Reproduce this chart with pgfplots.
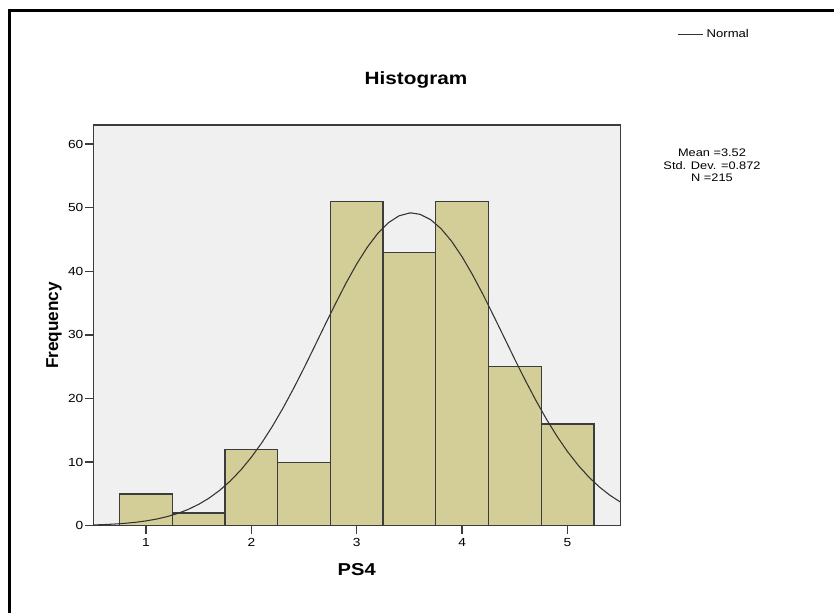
\documentclass[border=0pt]{standalone}
\usepackage{pgfplots}
\pgfplotsset{compat=1.18}
\usepackage{fontspec}
\setmainfont{Liberation Sans}

\definecolor{barfill}{RGB}{211,206,151}
\definecolor{plotbg}{RGB}{240,240,240}
\definecolor{edge}{RGB}{60,60,60}

\begin{document}
\begin{tikzpicture}
% page = 834 x 613 px, 1px = 0.75pt, origin at top left
\useasboundingbox (0pt,0pt) rectangle (625.5pt,-459.75pt);
\draw[black, line width=2.2pt] (7.1pt,-470pt) -- (7.1pt,-7.9pt) -- (640pt,-7.9pt);

\node[anchor=base, font=\bfseries\fontsize{13.3}{15}\selectfont, xscale=1.17]
  at (312pt,-63.75pt) {Histogram};
\node[align=center, font=\fontsize{8.2}{9.4}\selectfont, xscale=1.17]
  at (534pt,-124.2pt) {Mean =3.52\\Std. Dev. =0.872\\N =215};

\begin{axis}[
  scale only axis,
  width=395.3pt, height=300.5pt,
  at={(69.9pt,-394.3pt)}, anchor=south west,
  xmin=0.5, xmax=5.5, ymin=0, ymax=63,
  xtick={1,2,3,4,5}, ytick={0,10,...,60},
  tick pos=left, tick align=outside,
  major tick length=6pt,
  axis background/.style={fill=plotbg},
  axis line style={edge, line width=1pt},
  tick style={edge, line width=1pt},
  /pgf/number format/assume math mode=true,
  tick label style={font=\fontsize{8.8}{10}\selectfont, xscale=1.17},
  yticklabel style={inner sep=1pt},
  xlabel={PS4}, ylabel={Frequency},
  xlabel style={font=\bfseries\fontsize{12.9}{14}\selectfont, xscale=1.17,
    at={(axis description cs:0.5,-0.123)}, anchor=base},
  ylabel style={font=\bfseries\fontsize{12.9}{14}\selectfont,
    at={(axis description cs:-0.0744,0.5)}, anchor=center},
  legend style={draw=none, fill=none, at={(axis description cs:1.108,1.2264)},
    anchor=west, inner sep=0pt, font=\fontsize{8.4}{9}\selectfont,
    nodes={xscale=1.17}},
  legend image code/.code={\draw[#1] (0pt,0pt) -- (18.75pt,0pt);},
]
\addplot[ybar interval, fill=barfill, draw=edge, line width=0.9pt, forget plot]
  coordinates {
  (0.75,5) (1.25,2) (1.75,12) (2.25,10) (2.75,51)
  (3.25,43) (3.75,51) (4.25,25) (4.75,16) (5.25,16)
};
\addplot[black!80, line width=0.8pt, mark=none] coordinates {
  (0.5,0.122) (0.6,0.181) (0.7,0.264) (0.8,0.379) (0.9,0.539)
  (1.0,0.756) (1.1,1.046) (1.2,1.428) (1.3,1.924) (1.4,2.559)
  (1.5,3.361) (1.6,4.355) (1.7,5.569) (1.8,7.029) (1.9,8.755)
  (2.0,10.77) (2.1,13.06) (2.2,15.64) (2.3,18.48) (2.4,21.56)
  (2.5,24.81) (2.6,28.19) (2.7,31.61) (2.8,34.97) (2.9,38.20)
  (3.0,41.17) (3.1,43.79) (3.2,45.98) (3.3,47.64) (3.4,48.72)
  (3.5,49.17) (3.52,49.18) (3.6,48.97) (3.7,48.14) (3.8,46.71)
  (3.9,44.73) (4.0,42.27) (4.1,39.42) (4.2,36.29) (4.3,32.96)
  (4.4,29.56) (4.5,26.15) (4.6,22.84) (4.7,19.69) (4.8,16.75)
  (4.9,14.06) (5.0,11.65) (5.1,9.525) (5.2,7.687) (5.3,6.123)
  (5.4,4.813) (5.5,3.734)
};
\addlegendentry{Normal}
\end{axis}
\end{tikzpicture}
\end{document}
